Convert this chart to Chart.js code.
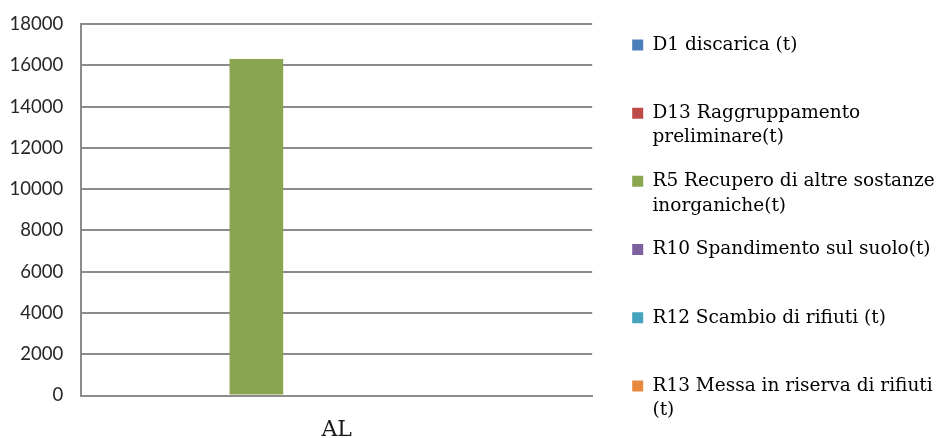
<!DOCTYPE html>
<html>
<head>
<meta charset="utf-8">
<script src="https://cdn.jsdelivr.net/npm/chart.js@4.4.1/dist/chart.umd.min.js"></script>
<style>
  html, body { margin: 0; padding: 0; background: #fff; }
  #wrap { width: 941px; height: 438px; position: relative; }
</style>
</head>
<body>
<div id="wrap"><canvas id="myChart"></canvas></div>
<script>
var categories = ['AL'];

// legend text, already split on the lines it wraps to
var seriesNames = [
  ['D1 discarica (t)', ''],
  ['D13 Raggruppamento', 'preliminare(t)'],
  ['R5 Recupero di altre sostanze', 'inorganiche(t)'],
  ['R10 Spandimento sul suolo(t)', ''],
  ['R12 Scambio di rifiuti (t)', ''],
  ['R13 Messa in riserva di rifiuti', '(t)']
];

var d1Values = [0];
var d13Values = [0];
var r5Values = [16300];
var r10Values = [0];
var r12Values = [0];
var r13Values = [0];

var yMin = 0;
var yMax = 18000;
var yStep = 2000;

var colors = ['#4a7ebb', '#be4b48', '#8ba651', '#7d60a0', '#46a3bd', '#e8893f'];

var allValues = [d1Values, d13Values, r5Values, r10Values, r12Values, r13Values];

var datasets = [];
for (var i = 0; i < allValues.length; i++) {
  datasets.push({
    label: seriesNames[i],
    data: allValues[i],
    backgroundColor: colors[i],
    borderWidth: 0
  });
}

var serif = 'DejaVu Serif';
var sans = 'Lato';
var gridColor = '#8c8c8c';
var ctx = document.getElementById('myChart');

new Chart(ctx, {
  type: 'bar',
  data: {
    labels: categories,
    datasets: datasets
  },
  options: {
    responsive: true,
    maintainAspectRatio: false,
    animation: false,
    layout: { padding: { left: -8.5, top: 16.5, right: 0, bottom: -26.5 } },
    datasets: {
      bar: { categoryPercentage: 1.886, barPercentage: 0.334 }
    },
    plugins: {
      tooltip: { enabled: false },
      legend: {
        position: 'right',
        align: 'start',
        maxWidth: 328,
        labels: {
          boxWidth: 11,
          boxHeight: 11,
          padding: 19.2,
          color: '#1a1a1a',
          font: { family: serif, size: 18.5, lineHeight: '24.5px' },
          generateLabels: function (chart) {
            return chart.data.datasets.map(function (ds, idx) {
              return {
                text: ds.label,
                fillStyle: ds.backgroundColor,
                strokeStyle: ds.backgroundColor,
                lineWidth: 0,
                hidden: false,
                datasetIndex: idx
              };
            });
          }
        }
      }
    },
    scales: {
      x: {
        grid: { display: false, drawTicks: false },
        border: { display: true, color: gridColor, width: 2 },
        ticks: {
          color: '#1a1a1a',
          padding: 10,
          font: { family: serif, size: 22, lineHeight: '49px' }
        }
      },
      y: {
        min: yMin,
        max: yMax,
        grid: { color: gridColor, lineWidth: 2, drawTicks: false },
        border: { display: true, color: gridColor, width: 2 },
        ticks: {
          stepSize: yStep,
          autoSkip: false,
          color: '#262626',
          padding: 18,
          font: { family: sans, size: 18.5, lineHeight: '12px' },
          callback: function (value) { return String(value); }
        }
      },
      // empty spacer between the plot and the legend
      gap: {
        type: 'linear',
        position: 'right',
        grid: { display: false },
        border: { display: false },
        ticks: { display: false },
        afterFit: function (scale) { scale.width = 20.8; }
      }
    }
  }
});
</script>
</body>
</html>
